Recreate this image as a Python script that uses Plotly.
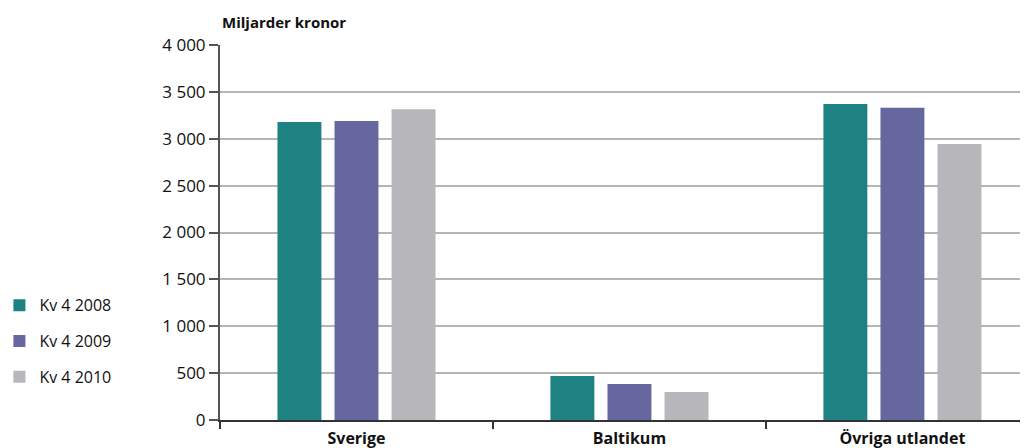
import plotly.graph_objects as go

categories = ["Sverige", "Baltikum", "Övriga utlandet"]
series_names = ["Kv 4 2008", "Kv 4 2009", "Kv 4 2010"]
kv4_2008 = [3180, 470, 3370]
kv4_2009 = [3190, 385, 3330]
kv4_2010 = [3315, 300, 2945]
colors = ["#1E8282", "#66679E", "#B7B7BB"]
y_ticks = [0, 500, 1000, 1500, 2000, 2500, 3000, 3500, 4000]

font_family = "Open Sans, DejaVu Sans, sans-serif"

fig = go.Figure()
for i, (name, vals) in enumerate(zip(series_names, [kv4_2008, kv4_2009, kv4_2010])):
    fig.add_trace(go.Bar(
        x=categories, y=vals, name=name, marker=dict(color=colors[i], line=dict(width=0)),
        legendgroup=name,
    ))

# page body has an 8px margin, so the figure is shifted by 8px
fig.update_layout(
    width=1020, height=440,
    margin=dict(l=212, r=0, t=37, b=28, autoexpand=False),
    paper_bgcolor="white", plot_bgcolor="white",
    barmode="group", bargap=0.373, bargroupgap=0.23,
    separators=", ",
    font=dict(family=font_family, color="#111111"),
    showlegend=True,
    legend=dict(
        x=-0.273, xanchor="left", y=0.21, yanchor="middle",
        font=dict(size=16, family=font_family, color="#111111"),
        tracegroupgap=12, bgcolor="rgba(0,0,0,0)",
        itemwidth=30,
    ),
    annotations=[dict(
        text="<b>Miljarder kronor</b>", x=0, xref="paper", xanchor="left",
        y=1, yref="paper", yanchor="bottom", yshift=11, showarrow=False,
        font=dict(size=15, family=font_family, color="#111111"),
    )],
)

fig.update_xaxes(
    type="category", range=[-0.5, 2.46],
    showline=True, linecolor="#333333", linewidth=2,
    ticks="outside", tickson="boundaries", ticklen=7, tickcolor="#333333", tickwidth=2,
    showgrid=False, ticklabelstandoff=3,
    tickfont=dict(size=16, family=font_family, color="#111111"),
    ticktext=["<b>%s</b>" % c for c in categories], tickvals=categories,
)
fig.update_yaxes(
    range=[0, 4000], tickvals=y_ticks, separatethousands=True, tickformat=",d",
    showline=True, linecolor="#555555", linewidth=2,
    ticks="outside", ticklen=9, tickcolor="#555555", tickwidth=2,
    showgrid=True, gridcolor="#B5B5B5", gridwidth=2,
    zeroline=False,
    tickfont=dict(size=17, family=font_family, color="#111111"),
)

fig.write_html("out.html")
